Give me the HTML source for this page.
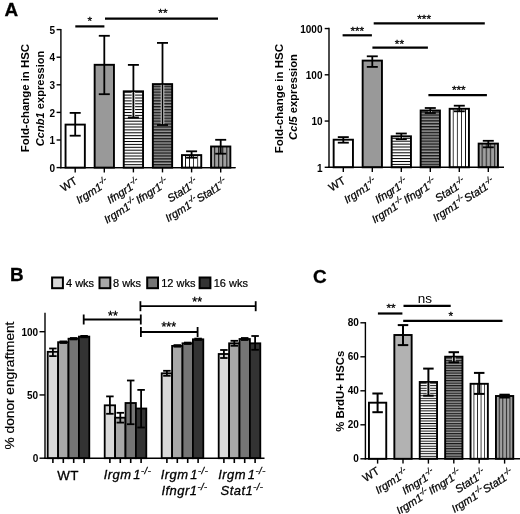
<!DOCTYPE html>
<html><head><meta charset="utf-8"><title>Figure</title>
<style>html,body{margin:0;padding:0;background:#fff}svg{display:block}text{font-family:"Liberation Sans", sans-serif;fill:#000}</style>
</head><body>
<svg width="520" height="514" viewBox="0 0 520 514">
<defs>
<pattern id="hw" x="0" y="-0.500" width="8" height="2.9" patternUnits="userSpaceOnUse"><rect width="8" height="2.9" fill="#fff"/><rect width="8" height="1.0" fill="#000"/></pattern>
<pattern id="hg" x="0" y="-0.700" width="8" height="2.9" patternUnits="userSpaceOnUse"><rect width="8" height="2.9" fill="#989898"/><rect width="8" height="1.4" fill="#1a1a1a"/></pattern>
<pattern id="vw" x="1.650" y="0" width="4.1" height="8" patternUnits="userSpaceOnUse"><rect width="4.1" height="8" fill="#fff"/><rect width="0.8" height="8" fill="#000"/></pattern>
<pattern id="vg" x="1.500" y="0" width="4.1" height="8" patternUnits="userSpaceOnUse"><rect width="4.1" height="8" fill="#a0a0a0"/><rect width="1.1" height="8" fill="#222"/></pattern>
<pattern id="hwC" x="0" y="-0.475" width="8" height="2.52" patternUnits="userSpaceOnUse"><rect width="8" height="2.52" fill="#fff"/><rect width="8" height="0.95" fill="#000"/></pattern>
<pattern id="hgC" x="0" y="-0.600" width="8" height="2.52" patternUnits="userSpaceOnUse"><rect width="8" height="2.52" fill="#989898"/><rect width="8" height="1.2" fill="#1a1a1a"/></pattern>
<pattern id="vwC" x="1.410" y="0" width="3.57" height="8" patternUnits="userSpaceOnUse"><rect width="3.57" height="8" fill="#fff"/><rect width="0.75" height="8" fill="#000"/></pattern>
<pattern id="vgC" x="1.285" y="0" width="3.57" height="8" patternUnits="userSpaceOnUse"><rect width="3.57" height="8" fill="#a0a0a0"/><rect width="1.0" height="8" fill="#222"/></pattern>
</defs>
<rect width="520" height="514" fill="#fff"/>

<text x="4.60" y="15.90" font-size="18.9" font-weight="bold" font-style="normal" text-anchor="start" stroke="#000" stroke-width="0.3">A</text>
<text x="10.00" y="280.70" font-size="18.9" font-weight="bold" font-style="normal" text-anchor="start" stroke="#000" stroke-width="0.3">B</text>
<text x="313.00" y="283.40" font-size="18.9" font-weight="bold" font-style="normal" text-anchor="start" stroke="#000" stroke-width="0.3">C</text>
<line x1="60.90" y1="28.90" x2="60.90" y2="168.30" stroke="#000" stroke-width="1.4" stroke-linecap="butt"/>
<line x1="60.20" y1="167.60" x2="235.50" y2="167.60" stroke="#000" stroke-width="1.4" stroke-linecap="butt"/>
<line x1="56.60" y1="167.60" x2="60.90" y2="167.60" stroke="#000" stroke-width="1.4" stroke-linecap="butt"/>
<text x="55.10" y="171.80" font-size="10" font-weight="bold" font-style="normal" text-anchor="end">0</text>
<line x1="56.60" y1="140.00" x2="60.90" y2="140.00" stroke="#000" stroke-width="1.4" stroke-linecap="butt"/>
<text x="55.10" y="144.20" font-size="10" font-weight="bold" font-style="normal" text-anchor="end">1</text>
<line x1="56.60" y1="112.40" x2="60.90" y2="112.40" stroke="#000" stroke-width="1.4" stroke-linecap="butt"/>
<text x="55.10" y="116.60" font-size="10" font-weight="bold" font-style="normal" text-anchor="end">2</text>
<line x1="56.60" y1="84.80" x2="60.90" y2="84.80" stroke="#000" stroke-width="1.4" stroke-linecap="butt"/>
<text x="55.10" y="89.00" font-size="10" font-weight="bold" font-style="normal" text-anchor="end">3</text>
<line x1="56.60" y1="57.20" x2="60.90" y2="57.20" stroke="#000" stroke-width="1.4" stroke-linecap="butt"/>
<text x="55.10" y="61.40" font-size="10" font-weight="bold" font-style="normal" text-anchor="end">4</text>
<line x1="56.60" y1="29.60" x2="60.90" y2="29.60" stroke="#000" stroke-width="1.4" stroke-linecap="butt"/>
<text x="55.10" y="33.80" font-size="10" font-weight="bold" font-style="normal" text-anchor="end">5</text>
<text x="29.30" y="98.10" font-size="11.4" font-weight="bold" font-style="normal" text-anchor="middle" transform="rotate(-90 29.30 98.10)">Fold-change in HSC</text>
<text x="44.00" y="98.40" font-size="11.1" font-weight="bold" font-style="normal" text-anchor="middle" transform="rotate(-90 44.00 98.40)"><tspan font-style="italic">Ccnb1</tspan> expression</text>
<g transform="translate(75.20 167.60)"><rect x="-9.65" y="-43.00" width="19.30" height="43.00" fill="#fff" stroke="#000" stroke-width="1.9"/></g>
<line x1="75.20" y1="112.90" x2="75.20" y2="135.70" stroke="#000" stroke-width="1.8" stroke-linecap="butt"/>
<line x1="69.70" y1="112.90" x2="80.70" y2="112.90" stroke="#000" stroke-width="1.8" stroke-linecap="butt"/>
<line x1="69.70" y1="135.70" x2="80.70" y2="135.70" stroke="#000" stroke-width="1.8" stroke-linecap="butt"/>
<line x1="75.20" y1="167.60" x2="75.20" y2="172.40" stroke="#000" stroke-width="1.4" stroke-linecap="butt"/>
<g transform="translate(104.30 167.60)"><rect x="-9.65" y="-102.80" width="19.30" height="102.80" fill="#999" stroke="#000" stroke-width="1.9"/></g>
<line x1="104.30" y1="35.80" x2="104.30" y2="94.20" stroke="#000" stroke-width="1.8" stroke-linecap="butt"/>
<line x1="98.80" y1="35.80" x2="109.80" y2="35.80" stroke="#000" stroke-width="1.8" stroke-linecap="butt"/>
<line x1="98.80" y1="94.20" x2="109.80" y2="94.20" stroke="#000" stroke-width="1.8" stroke-linecap="butt"/>
<line x1="104.30" y1="167.60" x2="104.30" y2="172.40" stroke="#000" stroke-width="1.4" stroke-linecap="butt"/>
<g transform="translate(133.40 167.60)"><rect x="-9.65" y="-76.30" width="19.30" height="76.30" fill="url(#hw)" stroke="#000" stroke-width="1.9"/></g>
<line x1="133.40" y1="92.00" x2="133.40" y2="117.50" stroke="#fff" stroke-width="3.4" stroke-linecap="butt"/>
<line x1="133.40" y1="64.90" x2="133.40" y2="117.50" stroke="#000" stroke-width="1.8" stroke-linecap="butt"/>
<line x1="127.90" y1="64.90" x2="138.90" y2="64.90" stroke="#000" stroke-width="1.8" stroke-linecap="butt"/>
<line x1="127.90" y1="117.50" x2="138.90" y2="117.50" stroke="#000" stroke-width="1.8" stroke-linecap="butt"/>
<line x1="133.40" y1="167.60" x2="133.40" y2="172.40" stroke="#000" stroke-width="1.4" stroke-linecap="butt"/>
<g transform="translate(162.50 167.60)"><rect x="-9.65" y="-83.50" width="19.30" height="83.50" fill="url(#hg)" stroke="#000" stroke-width="1.9"/></g>
<line x1="162.50" y1="84.80" x2="162.50" y2="125.00" stroke="#fff" stroke-width="3.4" stroke-linecap="butt"/>
<line x1="162.50" y1="42.90" x2="162.50" y2="125.00" stroke="#000" stroke-width="1.8" stroke-linecap="butt"/>
<line x1="157.00" y1="42.90" x2="168.00" y2="42.90" stroke="#000" stroke-width="1.8" stroke-linecap="butt"/>
<line x1="157.00" y1="125.00" x2="168.00" y2="125.00" stroke="#000" stroke-width="1.8" stroke-linecap="butt"/>
<line x1="162.50" y1="167.60" x2="162.50" y2="172.40" stroke="#000" stroke-width="1.4" stroke-linecap="butt"/>
<g transform="translate(191.60 167.60)"><rect x="-9.65" y="-12.50" width="19.30" height="12.50" fill="url(#vw)" stroke="#000" stroke-width="1.9"/></g>
<line x1="191.60" y1="151.30" x2="191.60" y2="157.70" stroke="#000" stroke-width="1.8" stroke-linecap="butt"/>
<line x1="186.10" y1="151.30" x2="197.10" y2="151.30" stroke="#000" stroke-width="1.8" stroke-linecap="butt"/>
<line x1="186.10" y1="157.70" x2="197.10" y2="157.70" stroke="#000" stroke-width="1.8" stroke-linecap="butt"/>
<line x1="191.60" y1="167.60" x2="191.60" y2="172.40" stroke="#000" stroke-width="1.4" stroke-linecap="butt"/>
<g transform="translate(220.70 167.60)"><rect x="-9.65" y="-21.10" width="19.30" height="21.10" fill="url(#vg)" stroke="#000" stroke-width="1.9"/></g>
<line x1="220.70" y1="139.80" x2="220.70" y2="153.70" stroke="#000" stroke-width="1.8" stroke-linecap="butt"/>
<line x1="215.20" y1="139.80" x2="226.20" y2="139.80" stroke="#000" stroke-width="1.8" stroke-linecap="butt"/>
<line x1="215.20" y1="153.70" x2="226.20" y2="153.70" stroke="#000" stroke-width="1.8" stroke-linecap="butt"/>
<line x1="220.70" y1="167.60" x2="220.70" y2="172.40" stroke="#000" stroke-width="1.4" stroke-linecap="butt"/>
<line x1="60.20" y1="167.60" x2="235.50" y2="167.60" stroke="#000" stroke-width="1.4" stroke-linecap="butt"/>
<text x="78.10" y="182.90" font-size="11.1" font-weight="normal" font-style="normal" text-anchor="end" transform="rotate(-32 78.10 182.90)" stroke="#000" stroke-width="0.25">WT</text>
<text x="109.70" y="184.80" font-size="11.1" font-weight="normal" font-style="italic" text-anchor="end" transform="rotate(-32 109.70 184.80)" stroke="#000" stroke-width="0.25">Irgm1<tspan font-size="8.4" dy="-4.8">-/-</tspan></text>
<text x="140.80" y="184.80" font-size="11.1" font-weight="normal" font-style="italic" text-anchor="end" transform="rotate(-32 140.80 184.80)" stroke="#000" stroke-width="0.25">Ifngr1<tspan font-size="8.4" dy="-4.8">-/-</tspan></text>
<text x="169.40" y="184.80" font-size="11.1" font-weight="normal" font-style="italic" text-anchor="end" transform="rotate(-32 169.40 184.80)" stroke="#000" stroke-width="0.25">Irgm1<tspan font-size="8.4" dy="-4.8">-/-</tspan><tspan dy="4.8" dx="-2.0"> Ifngr1</tspan><tspan font-size="8.4" dy="-4.8">-/-</tspan></text>
<text x="199.00" y="184.80" font-size="11.1" font-weight="normal" font-style="italic" text-anchor="end" transform="rotate(-32 199.00 184.80)" stroke="#000" stroke-width="0.25">Stat1<tspan font-size="8.4" dy="-4.8">-/-</tspan></text>
<text x="228.10" y="184.80" font-size="11.1" font-weight="normal" font-style="italic" text-anchor="end" transform="rotate(-32 228.10 184.80)" stroke="#000" stroke-width="0.25">Irgm1<tspan font-size="8.4" dy="-4.8">-/-</tspan><tspan dy="4.8" dx="-2.5"> Stat1</tspan><tspan font-size="8.4" dy="-4.8">-/-</tspan></text>
<line x1="75.30" y1="26.40" x2="104.40" y2="26.40" stroke="#000" stroke-width="2.2" stroke-linecap="butt"/>
<text x="89.70" y="25.20" font-size="11.8" font-weight="normal" font-style="normal" text-anchor="middle" stroke="#000" stroke-width="0.3">*</text>
<line x1="105.00" y1="18.70" x2="218.00" y2="18.70" stroke="#000" stroke-width="2.2" stroke-linecap="butt"/>
<text x="162.90" y="17.00" font-size="11.8" font-weight="normal" font-style="normal" text-anchor="middle" stroke="#000" stroke-width="0.3">**</text>
<line x1="329.00" y1="27.85" x2="329.00" y2="168.00" stroke="#000" stroke-width="1.4" stroke-linecap="butt"/>
<line x1="324.70" y1="167.30" x2="329.00" y2="167.30" stroke="#000" stroke-width="1.4" stroke-linecap="butt"/>
<text x="322.50" y="171.50" font-size="10" font-weight="bold" font-style="normal" text-anchor="end">1</text>
<line x1="324.70" y1="121.05" x2="329.00" y2="121.05" stroke="#000" stroke-width="1.4" stroke-linecap="butt"/>
<text x="322.50" y="125.25" font-size="10" font-weight="bold" font-style="normal" text-anchor="end">10</text>
<line x1="324.70" y1="74.80" x2="329.00" y2="74.80" stroke="#000" stroke-width="1.4" stroke-linecap="butt"/>
<text x="322.50" y="79.00" font-size="10" font-weight="bold" font-style="normal" text-anchor="end">100</text>
<line x1="324.70" y1="28.55" x2="329.00" y2="28.55" stroke="#000" stroke-width="1.4" stroke-linecap="butt"/>
<text x="322.50" y="32.75" font-size="10" font-weight="bold" font-style="normal" text-anchor="end">1000</text>
<text x="283.00" y="98.60" font-size="11.5" font-weight="bold" font-style="normal" text-anchor="middle" transform="rotate(-90 283.00 98.60)">Fold-change in HSC</text>
<text x="296.80" y="97.00" font-size="11.2" font-weight="bold" font-style="normal" text-anchor="middle" transform="rotate(-90 296.80 97.00)"><tspan font-style="italic">Ccl5</tspan> expression</text>
<g transform="translate(343.30 167.30)"><rect x="-9.65" y="-27.60" width="19.30" height="27.60" fill="#fff" stroke="#000" stroke-width="1.9"/></g>
<line x1="343.30" y1="137.10" x2="343.30" y2="142.70" stroke="#000" stroke-width="1.8" stroke-linecap="butt"/>
<line x1="337.80" y1="137.10" x2="348.80" y2="137.10" stroke="#000" stroke-width="1.8" stroke-linecap="butt"/>
<line x1="337.80" y1="142.70" x2="348.80" y2="142.70" stroke="#000" stroke-width="1.8" stroke-linecap="butt"/>
<line x1="343.30" y1="167.30" x2="343.30" y2="172.10" stroke="#000" stroke-width="1.4" stroke-linecap="butt"/>
<g transform="translate(372.30 167.30)"><rect x="-9.65" y="-106.70" width="19.30" height="106.70" fill="#999" stroke="#000" stroke-width="1.9"/></g>
<line x1="372.30" y1="56.30" x2="372.30" y2="66.90" stroke="#000" stroke-width="1.8" stroke-linecap="butt"/>
<line x1="366.80" y1="56.30" x2="377.80" y2="56.30" stroke="#000" stroke-width="1.8" stroke-linecap="butt"/>
<line x1="366.80" y1="66.90" x2="377.80" y2="66.90" stroke="#000" stroke-width="1.8" stroke-linecap="butt"/>
<line x1="372.30" y1="167.30" x2="372.30" y2="172.10" stroke="#000" stroke-width="1.4" stroke-linecap="butt"/>
<g transform="translate(401.30 167.30)"><rect x="-9.65" y="-31.00" width="19.30" height="31.00" fill="url(#hw)" stroke="#000" stroke-width="1.9"/></g>
<line x1="401.30" y1="137.00" x2="401.30" y2="139.20" stroke="#fff" stroke-width="3.4" stroke-linecap="butt"/>
<line x1="401.30" y1="133.50" x2="401.30" y2="139.20" stroke="#000" stroke-width="1.8" stroke-linecap="butt"/>
<line x1="395.80" y1="133.50" x2="406.80" y2="133.50" stroke="#000" stroke-width="1.8" stroke-linecap="butt"/>
<line x1="395.80" y1="139.20" x2="406.80" y2="139.20" stroke="#000" stroke-width="1.8" stroke-linecap="butt"/>
<line x1="401.30" y1="167.30" x2="401.30" y2="172.10" stroke="#000" stroke-width="1.4" stroke-linecap="butt"/>
<g transform="translate(430.30 167.30)"><rect x="-9.65" y="-56.80" width="19.30" height="56.80" fill="url(#hg)" stroke="#000" stroke-width="1.9"/></g>
<line x1="430.30" y1="111.20" x2="430.30" y2="113.00" stroke="#fff" stroke-width="3.4" stroke-linecap="butt"/>
<line x1="430.30" y1="108.00" x2="430.30" y2="113.00" stroke="#000" stroke-width="1.8" stroke-linecap="butt"/>
<line x1="424.80" y1="108.00" x2="435.80" y2="108.00" stroke="#000" stroke-width="1.8" stroke-linecap="butt"/>
<line x1="424.80" y1="113.00" x2="435.80" y2="113.00" stroke="#000" stroke-width="1.8" stroke-linecap="butt"/>
<line x1="430.30" y1="167.30" x2="430.30" y2="172.10" stroke="#000" stroke-width="1.4" stroke-linecap="butt"/>
<g transform="translate(459.30 167.30)"><rect x="-9.65" y="-58.50" width="19.30" height="58.50" fill="url(#vw)" stroke="#000" stroke-width="1.9"/></g>
<line x1="459.30" y1="105.70" x2="459.30" y2="111.30" stroke="#000" stroke-width="1.8" stroke-linecap="butt"/>
<line x1="453.80" y1="105.70" x2="464.80" y2="105.70" stroke="#000" stroke-width="1.8" stroke-linecap="butt"/>
<line x1="453.80" y1="111.30" x2="464.80" y2="111.30" stroke="#000" stroke-width="1.8" stroke-linecap="butt"/>
<line x1="459.30" y1="167.30" x2="459.30" y2="172.10" stroke="#000" stroke-width="1.4" stroke-linecap="butt"/>
<g transform="translate(488.30 167.30)"><rect x="-9.65" y="-23.70" width="19.30" height="23.70" fill="url(#vg)" stroke="#000" stroke-width="1.9"/></g>
<line x1="488.30" y1="140.80" x2="488.30" y2="147.30" stroke="#000" stroke-width="1.8" stroke-linecap="butt"/>
<line x1="482.80" y1="140.80" x2="493.80" y2="140.80" stroke="#000" stroke-width="1.8" stroke-linecap="butt"/>
<line x1="482.80" y1="147.30" x2="493.80" y2="147.30" stroke="#000" stroke-width="1.8" stroke-linecap="butt"/>
<line x1="488.30" y1="167.30" x2="488.30" y2="172.10" stroke="#000" stroke-width="1.4" stroke-linecap="butt"/>
<line x1="328.30" y1="167.30" x2="504.00" y2="167.30" stroke="#000" stroke-width="1.4" stroke-linecap="butt"/>
<text x="346.20" y="182.60" font-size="11.1" font-weight="normal" font-style="normal" text-anchor="end" transform="rotate(-32 346.20 182.60)" stroke="#000" stroke-width="0.25">WT</text>
<text x="377.70" y="184.50" font-size="11.1" font-weight="normal" font-style="italic" text-anchor="end" transform="rotate(-32 377.70 184.50)" stroke="#000" stroke-width="0.25">Irgm1<tspan font-size="8.4" dy="-4.8">-/-</tspan></text>
<text x="408.70" y="184.50" font-size="11.1" font-weight="normal" font-style="italic" text-anchor="end" transform="rotate(-32 408.70 184.50)" stroke="#000" stroke-width="0.25">Ifngr1<tspan font-size="8.4" dy="-4.8">-/-</tspan></text>
<text x="437.20" y="184.50" font-size="11.1" font-weight="normal" font-style="italic" text-anchor="end" transform="rotate(-32 437.20 184.50)" stroke="#000" stroke-width="0.25">Irgm1<tspan font-size="8.4" dy="-4.8">-/-</tspan><tspan dy="4.8" dx="-2.0"> Ifngr1</tspan><tspan font-size="8.4" dy="-4.8">-/-</tspan></text>
<text x="466.70" y="184.50" font-size="11.1" font-weight="normal" font-style="italic" text-anchor="end" transform="rotate(-32 466.70 184.50)" stroke="#000" stroke-width="0.25">Stat1<tspan font-size="8.4" dy="-4.8">-/-</tspan></text>
<text x="495.70" y="184.50" font-size="11.1" font-weight="normal" font-style="italic" text-anchor="end" transform="rotate(-32 495.70 184.50)" stroke="#000" stroke-width="0.25">Irgm1<tspan font-size="8.4" dy="-4.8">-/-</tspan><tspan dy="4.8" dx="-2.5"> Stat1</tspan><tspan font-size="8.4" dy="-4.8">-/-</tspan></text>
<line x1="342.60" y1="35.30" x2="371.90" y2="35.30" stroke="#000" stroke-width="2.2" stroke-linecap="butt"/>
<text x="357.30" y="34.90" font-size="11.8" font-weight="normal" font-style="normal" text-anchor="middle" stroke="#000" stroke-width="0.3">***</text>
<line x1="373.70" y1="23.30" x2="484.80" y2="23.30" stroke="#000" stroke-width="2.2" stroke-linecap="butt"/>
<text x="424.10" y="22.90" font-size="11.8" font-weight="normal" font-style="normal" text-anchor="middle" stroke="#000" stroke-width="0.3">***</text>
<line x1="372.40" y1="47.60" x2="427.90" y2="47.60" stroke="#000" stroke-width="2.2" stroke-linecap="butt"/>
<text x="399.40" y="47.70" font-size="11.8" font-weight="normal" font-style="normal" text-anchor="middle" stroke="#000" stroke-width="0.3">**</text>
<line x1="428.40" y1="95.10" x2="486.90" y2="95.10" stroke="#000" stroke-width="2.2" stroke-linecap="butt"/>
<text x="458.80" y="94.30" font-size="11.8" font-weight="normal" font-style="normal" text-anchor="middle" stroke="#000" stroke-width="0.3">***</text>
<line x1="45.00" y1="312.70" x2="45.00" y2="458.90" stroke="#000" stroke-width="1.4" stroke-linecap="butt"/>
<line x1="39.50" y1="458.20" x2="45.00" y2="458.20" stroke="#000" stroke-width="1.4" stroke-linecap="butt"/>
<text x="38.20" y="462.40" font-size="10" font-weight="bold" font-style="normal" text-anchor="end">0</text>
<line x1="39.50" y1="394.95" x2="45.00" y2="394.95" stroke="#000" stroke-width="1.4" stroke-linecap="butt"/>
<text x="38.20" y="399.15" font-size="10" font-weight="bold" font-style="normal" text-anchor="end">50</text>
<line x1="39.50" y1="331.70" x2="45.00" y2="331.70" stroke="#000" stroke-width="1.4" stroke-linecap="butt"/>
<text x="38.20" y="335.90" font-size="10" font-weight="bold" font-style="normal" text-anchor="end">100</text>
<text x="13.60" y="385.50" font-size="13.7" font-weight="normal" font-style="normal" text-anchor="middle" transform="rotate(-90 13.60 385.50)" stroke="#000" stroke-width="0.2">% donor engraftment</text>
<g transform="translate(52.90 458.20)"><rect x="-5.20" y="-106.40" width="10.40" height="106.40" fill="#d9d9d9" stroke="#000" stroke-width="1.8"/></g>
<g transform="translate(63.30 458.20)"><rect x="-5.20" y="-116.00" width="10.40" height="116.00" fill="#a8a8a8" stroke="#000" stroke-width="1.8"/></g>
<g transform="translate(73.70 458.20)"><rect x="-5.20" y="-119.50" width="10.40" height="119.50" fill="#757575" stroke="#000" stroke-width="1.8"/></g>
<g transform="translate(84.10 458.20)"><rect x="-5.20" y="-121.60" width="10.40" height="121.60" fill="#333" stroke="#000" stroke-width="1.8"/></g>
<line x1="52.90" y1="348.50" x2="52.90" y2="356.10" stroke="#000" stroke-width="1.8" stroke-linecap="butt"/>
<line x1="49.15" y1="348.50" x2="56.65" y2="348.50" stroke="#000" stroke-width="1.8" stroke-linecap="butt"/>
<line x1="49.15" y1="356.10" x2="56.65" y2="356.10" stroke="#000" stroke-width="1.8" stroke-linecap="butt"/>
<line x1="52.90" y1="458.20" x2="52.90" y2="463.00" stroke="#000" stroke-width="1.6" stroke-linecap="butt"/>
<line x1="63.30" y1="341.40" x2="63.30" y2="343.00" stroke="#000" stroke-width="1.8" stroke-linecap="butt"/>
<line x1="59.55" y1="341.40" x2="67.05" y2="341.40" stroke="#000" stroke-width="1.8" stroke-linecap="butt"/>
<line x1="59.55" y1="343.00" x2="67.05" y2="343.00" stroke="#000" stroke-width="1.8" stroke-linecap="butt"/>
<line x1="63.30" y1="458.20" x2="63.30" y2="463.00" stroke="#000" stroke-width="1.6" stroke-linecap="butt"/>
<line x1="73.70" y1="338.00" x2="73.70" y2="339.40" stroke="#000" stroke-width="1.8" stroke-linecap="butt"/>
<line x1="69.95" y1="338.00" x2="77.45" y2="338.00" stroke="#000" stroke-width="1.8" stroke-linecap="butt"/>
<line x1="69.95" y1="339.40" x2="77.45" y2="339.40" stroke="#000" stroke-width="1.8" stroke-linecap="butt"/>
<line x1="73.70" y1="458.20" x2="73.70" y2="463.00" stroke="#000" stroke-width="1.6" stroke-linecap="butt"/>
<line x1="84.10" y1="335.90" x2="84.10" y2="337.30" stroke="#000" stroke-width="1.8" stroke-linecap="butt"/>
<line x1="80.35" y1="335.90" x2="87.85" y2="335.90" stroke="#000" stroke-width="1.8" stroke-linecap="butt"/>
<line x1="80.35" y1="337.30" x2="87.85" y2="337.30" stroke="#000" stroke-width="1.8" stroke-linecap="butt"/>
<line x1="84.10" y1="458.20" x2="84.10" y2="463.00" stroke="#000" stroke-width="1.6" stroke-linecap="butt"/>
<g transform="translate(109.90 458.20)"><rect x="-5.20" y="-52.90" width="10.40" height="52.90" fill="#d9d9d9" stroke="#000" stroke-width="1.8"/></g>
<g transform="translate(120.30 458.20)"><rect x="-5.20" y="-40.50" width="10.40" height="40.50" fill="#a8a8a8" stroke="#000" stroke-width="1.8"/></g>
<g transform="translate(130.70 458.20)"><rect x="-5.20" y="-55.20" width="10.40" height="55.20" fill="#757575" stroke="#000" stroke-width="1.8"/></g>
<g transform="translate(141.10 458.20)"><rect x="-5.20" y="-49.70" width="10.40" height="49.70" fill="#333" stroke="#000" stroke-width="1.8"/></g>
<line x1="109.90" y1="396.40" x2="109.90" y2="413.80" stroke="#000" stroke-width="1.8" stroke-linecap="butt"/>
<line x1="106.15" y1="396.40" x2="113.65" y2="396.40" stroke="#000" stroke-width="1.8" stroke-linecap="butt"/>
<line x1="106.15" y1="413.80" x2="113.65" y2="413.80" stroke="#000" stroke-width="1.8" stroke-linecap="butt"/>
<line x1="109.90" y1="458.20" x2="109.90" y2="463.00" stroke="#000" stroke-width="1.6" stroke-linecap="butt"/>
<line x1="120.30" y1="412.80" x2="120.30" y2="422.60" stroke="#000" stroke-width="1.8" stroke-linecap="butt"/>
<line x1="116.55" y1="412.80" x2="124.05" y2="412.80" stroke="#000" stroke-width="1.8" stroke-linecap="butt"/>
<line x1="116.55" y1="422.60" x2="124.05" y2="422.60" stroke="#000" stroke-width="1.8" stroke-linecap="butt"/>
<line x1="120.30" y1="458.20" x2="120.30" y2="463.00" stroke="#000" stroke-width="1.6" stroke-linecap="butt"/>
<line x1="130.70" y1="380.50" x2="130.70" y2="424.20" stroke="#000" stroke-width="1.8" stroke-linecap="butt"/>
<line x1="126.95" y1="380.50" x2="134.45" y2="380.50" stroke="#000" stroke-width="1.8" stroke-linecap="butt"/>
<line x1="126.95" y1="424.20" x2="134.45" y2="424.20" stroke="#000" stroke-width="1.8" stroke-linecap="butt"/>
<line x1="130.70" y1="458.20" x2="130.70" y2="463.00" stroke="#000" stroke-width="1.6" stroke-linecap="butt"/>
<line x1="141.10" y1="389.90" x2="141.10" y2="427.50" stroke="#000" stroke-width="1.8" stroke-linecap="butt"/>
<line x1="137.35" y1="389.90" x2="144.85" y2="389.90" stroke="#000" stroke-width="1.8" stroke-linecap="butt"/>
<line x1="137.35" y1="427.50" x2="144.85" y2="427.50" stroke="#000" stroke-width="1.8" stroke-linecap="butt"/>
<line x1="141.10" y1="458.20" x2="141.10" y2="463.00" stroke="#000" stroke-width="1.6" stroke-linecap="butt"/>
<g transform="translate(166.90 458.20)"><rect x="-5.20" y="-84.90" width="10.40" height="84.90" fill="#d9d9d9" stroke="#000" stroke-width="1.8"/></g>
<g transform="translate(177.30 458.20)"><rect x="-5.20" y="-112.30" width="10.40" height="112.30" fill="#a8a8a8" stroke="#000" stroke-width="1.8"/></g>
<g transform="translate(187.70 458.20)"><rect x="-5.20" y="-114.90" width="10.40" height="114.90" fill="#757575" stroke="#000" stroke-width="1.8"/></g>
<g transform="translate(198.10 458.20)"><rect x="-5.20" y="-118.90" width="10.40" height="118.90" fill="#333" stroke="#000" stroke-width="1.8"/></g>
<line x1="166.90" y1="370.80" x2="166.90" y2="375.80" stroke="#000" stroke-width="1.8" stroke-linecap="butt"/>
<line x1="163.15" y1="370.80" x2="170.65" y2="370.80" stroke="#000" stroke-width="1.8" stroke-linecap="butt"/>
<line x1="163.15" y1="375.80" x2="170.65" y2="375.80" stroke="#000" stroke-width="1.8" stroke-linecap="butt"/>
<line x1="166.90" y1="458.20" x2="166.90" y2="463.00" stroke="#000" stroke-width="1.6" stroke-linecap="butt"/>
<line x1="177.30" y1="345.10" x2="177.30" y2="346.70" stroke="#000" stroke-width="1.8" stroke-linecap="butt"/>
<line x1="173.55" y1="345.10" x2="181.05" y2="345.10" stroke="#000" stroke-width="1.8" stroke-linecap="butt"/>
<line x1="173.55" y1="346.70" x2="181.05" y2="346.70" stroke="#000" stroke-width="1.8" stroke-linecap="butt"/>
<line x1="177.30" y1="458.20" x2="177.30" y2="463.00" stroke="#000" stroke-width="1.6" stroke-linecap="butt"/>
<line x1="187.70" y1="342.60" x2="187.70" y2="344.00" stroke="#000" stroke-width="1.8" stroke-linecap="butt"/>
<line x1="183.95" y1="342.60" x2="191.45" y2="342.60" stroke="#000" stroke-width="1.8" stroke-linecap="butt"/>
<line x1="183.95" y1="344.00" x2="191.45" y2="344.00" stroke="#000" stroke-width="1.8" stroke-linecap="butt"/>
<line x1="187.70" y1="458.20" x2="187.70" y2="463.00" stroke="#000" stroke-width="1.6" stroke-linecap="butt"/>
<line x1="198.10" y1="338.60" x2="198.10" y2="340.00" stroke="#000" stroke-width="1.8" stroke-linecap="butt"/>
<line x1="194.35" y1="338.60" x2="201.85" y2="338.60" stroke="#000" stroke-width="1.8" stroke-linecap="butt"/>
<line x1="194.35" y1="340.00" x2="201.85" y2="340.00" stroke="#000" stroke-width="1.8" stroke-linecap="butt"/>
<line x1="198.10" y1="458.20" x2="198.10" y2="463.00" stroke="#000" stroke-width="1.6" stroke-linecap="butt"/>
<g transform="translate(223.90 458.20)"><rect x="-5.20" y="-104.20" width="10.40" height="104.20" fill="#d9d9d9" stroke="#000" stroke-width="1.8"/></g>
<g transform="translate(234.30 458.20)"><rect x="-5.20" y="-114.90" width="10.40" height="114.90" fill="#a8a8a8" stroke="#000" stroke-width="1.8"/></g>
<g transform="translate(244.70 458.20)"><rect x="-5.20" y="-119.20" width="10.40" height="119.20" fill="#757575" stroke="#000" stroke-width="1.8"/></g>
<g transform="translate(255.10 458.20)"><rect x="-5.20" y="-114.90" width="10.40" height="114.90" fill="#333" stroke="#000" stroke-width="1.8"/></g>
<line x1="223.90" y1="350.00" x2="223.90" y2="358.00" stroke="#000" stroke-width="1.8" stroke-linecap="butt"/>
<line x1="220.15" y1="350.00" x2="227.65" y2="350.00" stroke="#000" stroke-width="1.8" stroke-linecap="butt"/>
<line x1="220.15" y1="358.00" x2="227.65" y2="358.00" stroke="#000" stroke-width="1.8" stroke-linecap="butt"/>
<line x1="223.90" y1="458.20" x2="223.90" y2="463.00" stroke="#000" stroke-width="1.6" stroke-linecap="butt"/>
<line x1="234.30" y1="340.80" x2="234.30" y2="345.80" stroke="#000" stroke-width="1.8" stroke-linecap="butt"/>
<line x1="230.55" y1="340.80" x2="238.05" y2="340.80" stroke="#000" stroke-width="1.8" stroke-linecap="butt"/>
<line x1="230.55" y1="345.80" x2="238.05" y2="345.80" stroke="#000" stroke-width="1.8" stroke-linecap="butt"/>
<line x1="234.30" y1="458.20" x2="234.30" y2="463.00" stroke="#000" stroke-width="1.6" stroke-linecap="butt"/>
<line x1="244.70" y1="338.00" x2="244.70" y2="340.00" stroke="#000" stroke-width="1.8" stroke-linecap="butt"/>
<line x1="240.95" y1="338.00" x2="248.45" y2="338.00" stroke="#000" stroke-width="1.8" stroke-linecap="butt"/>
<line x1="240.95" y1="340.00" x2="248.45" y2="340.00" stroke="#000" stroke-width="1.8" stroke-linecap="butt"/>
<line x1="244.70" y1="458.20" x2="244.70" y2="463.00" stroke="#000" stroke-width="1.6" stroke-linecap="butt"/>
<line x1="255.10" y1="336.00" x2="255.10" y2="349.80" stroke="#000" stroke-width="1.8" stroke-linecap="butt"/>
<line x1="251.35" y1="336.00" x2="258.85" y2="336.00" stroke="#000" stroke-width="1.8" stroke-linecap="butt"/>
<line x1="251.35" y1="349.80" x2="258.85" y2="349.80" stroke="#000" stroke-width="1.8" stroke-linecap="butt"/>
<line x1="255.10" y1="458.20" x2="255.10" y2="463.00" stroke="#000" stroke-width="1.6" stroke-linecap="butt"/>
<line x1="44.30" y1="458.20" x2="264.50" y2="458.20" stroke="#000" stroke-width="1.4" stroke-linecap="butt"/>
<rect x="52.10" y="277.5" width="10.8" height="10.7" fill="#d9d9d9" stroke="#000" stroke-width="2"/>
<text x="66.00" y="287.00" font-size="11" font-weight="normal" font-style="normal" text-anchor="start" stroke="#000" stroke-width="0.2">4 wks</text>
<rect x="99.50" y="277.5" width="10.8" height="10.7" fill="#a8a8a8" stroke="#000" stroke-width="2"/>
<text x="113.00" y="287.00" font-size="11" font-weight="normal" font-style="normal" text-anchor="start" stroke="#000" stroke-width="0.2">8 wks</text>
<rect x="147.20" y="277.5" width="10.8" height="10.7" fill="#757575" stroke="#000" stroke-width="2"/>
<text x="161.20" y="287.00" font-size="11" font-weight="normal" font-style="normal" text-anchor="start" stroke="#000" stroke-width="0.2">12 wks</text>
<rect x="199.60" y="277.5" width="10.8" height="10.7" fill="#333" stroke="#000" stroke-width="2"/>
<text x="213.70" y="287.00" font-size="11" font-weight="normal" font-style="normal" text-anchor="start" stroke="#000" stroke-width="0.2">16 wks</text>
<text x="68.00" y="480.00" font-size="13.4" font-weight="normal" font-style="normal" text-anchor="middle" letter-spacing="0.45" stroke="#000" stroke-width="0.3">WT</text>
<text x="127.50" y="478.70" font-size="13" font-weight="normal" font-style="italic" text-anchor="middle" letter-spacing="0.45" stroke="#000" stroke-width="0.3">Irgm<tspan dx="1.8">1</tspan><tspan font-size="9.4" dy="-4.7">-/-</tspan></text>
<text x="184.50" y="478.70" font-size="13" font-weight="normal" font-style="italic" text-anchor="middle" letter-spacing="0.45" stroke="#000" stroke-width="0.3">Irgm<tspan dx="1.8">1</tspan><tspan font-size="9.4" dy="-4.7">-/-</tspan></text>
<text x="184.50" y="494.70" font-size="13" font-weight="normal" font-style="italic" text-anchor="middle" letter-spacing="0.45" stroke="#000" stroke-width="0.3">Ifngr1<tspan font-size="9.4" dy="-4.7">-/-</tspan></text>
<text x="242.00" y="478.70" font-size="13" font-weight="normal" font-style="italic" text-anchor="middle" letter-spacing="0.45" stroke="#000" stroke-width="0.3">Irgm<tspan dx="1.8">1</tspan><tspan font-size="9.4" dy="-4.7">-/-</tspan></text>
<text x="242.00" y="494.70" font-size="13" font-weight="normal" font-style="italic" text-anchor="middle" letter-spacing="0.45" stroke="#000" stroke-width="0.3">Stat1<tspan font-size="9.4" dy="-4.7">-/-</tspan></text>
<line x1="83.70" y1="319.50" x2="140.80" y2="319.50" stroke="#000" stroke-width="1.8" stroke-linecap="butt"/>
<line x1="83.70" y1="314.50" x2="83.70" y2="324.50" stroke="#000" stroke-width="1.8" stroke-linecap="butt"/>
<line x1="140.80" y1="314.50" x2="140.80" y2="324.50" stroke="#000" stroke-width="1.8" stroke-linecap="butt"/>
<text x="112.90" y="319.60" font-size="12.5" font-weight="normal" font-style="normal" text-anchor="middle" stroke="#000" stroke-width="0.3">**</text>
<line x1="140.40" y1="306.20" x2="255.70" y2="306.20" stroke="#000" stroke-width="1.8" stroke-linecap="butt"/>
<line x1="140.40" y1="301.20" x2="140.40" y2="311.20" stroke="#000" stroke-width="1.8" stroke-linecap="butt"/>
<line x1="255.70" y1="301.20" x2="255.70" y2="311.20" stroke="#000" stroke-width="1.8" stroke-linecap="butt"/>
<text x="197.20" y="306.40" font-size="12.5" font-weight="normal" font-style="normal" text-anchor="middle" stroke="#000" stroke-width="0.3">**</text>
<line x1="140.90" y1="332.00" x2="197.60" y2="332.00" stroke="#000" stroke-width="1.8" stroke-linecap="butt"/>
<line x1="140.90" y1="327.00" x2="140.90" y2="337.00" stroke="#000" stroke-width="1.8" stroke-linecap="butt"/>
<line x1="197.60" y1="327.00" x2="197.60" y2="337.00" stroke="#000" stroke-width="1.8" stroke-linecap="butt"/>
<text x="168.80" y="331.00" font-size="12.5" font-weight="normal" font-style="normal" text-anchor="middle" stroke="#000" stroke-width="0.3">***</text>
<line x1="365.40" y1="322.10" x2="365.40" y2="459.50" stroke="#000" stroke-width="1.4" stroke-linecap="butt"/>
<line x1="360.40" y1="458.80" x2="365.40" y2="458.80" stroke="#000" stroke-width="1.4" stroke-linecap="butt"/>
<text x="358.90" y="462.40" font-size="10" font-weight="bold" font-style="normal" text-anchor="end">0</text>
<line x1="360.40" y1="424.80" x2="365.40" y2="424.80" stroke="#000" stroke-width="1.4" stroke-linecap="butt"/>
<text x="358.90" y="428.40" font-size="10" font-weight="bold" font-style="normal" text-anchor="end">20</text>
<line x1="360.40" y1="390.80" x2="365.40" y2="390.80" stroke="#000" stroke-width="1.4" stroke-linecap="butt"/>
<text x="358.90" y="394.40" font-size="10" font-weight="bold" font-style="normal" text-anchor="end">40</text>
<line x1="360.40" y1="356.80" x2="365.40" y2="356.80" stroke="#000" stroke-width="1.4" stroke-linecap="butt"/>
<text x="358.90" y="360.40" font-size="10" font-weight="bold" font-style="normal" text-anchor="end">60</text>
<line x1="360.40" y1="322.80" x2="365.40" y2="322.80" stroke="#000" stroke-width="1.4" stroke-linecap="butt"/>
<text x="358.90" y="326.40" font-size="10" font-weight="bold" font-style="normal" text-anchor="end">80</text>
<text x="343.60" y="391.20" font-size="11.35" font-weight="bold" font-style="normal" text-anchor="middle" transform="rotate(-90 343.60 391.20)">% BrdU+ HSCs</text>
<g transform="translate(377.60 458.80)"><rect x="-8.65" y="-56.10" width="17.30" height="56.10" fill="#fff" stroke="#000" stroke-width="1.9"/></g>
<line x1="377.60" y1="393.50" x2="377.60" y2="412.20" stroke="#000" stroke-width="2.0" stroke-linecap="butt"/>
<line x1="372.35" y1="393.50" x2="382.85" y2="393.50" stroke="#000" stroke-width="2.0" stroke-linecap="butt"/>
<line x1="372.35" y1="412.20" x2="382.85" y2="412.20" stroke="#000" stroke-width="2.0" stroke-linecap="butt"/>
<line x1="377.60" y1="458.80" x2="377.60" y2="463.60" stroke="#000" stroke-width="1.4" stroke-linecap="butt"/>
<g transform="translate(403.00 458.80)"><rect x="-8.65" y="-123.80" width="17.30" height="123.80" fill="#b2b2b2" stroke="#000" stroke-width="1.9"/></g>
<line x1="403.00" y1="325.10" x2="403.00" y2="345.10" stroke="#000" stroke-width="2.0" stroke-linecap="butt"/>
<line x1="397.75" y1="325.10" x2="408.25" y2="325.10" stroke="#000" stroke-width="2.0" stroke-linecap="butt"/>
<line x1="397.75" y1="345.10" x2="408.25" y2="345.10" stroke="#000" stroke-width="2.0" stroke-linecap="butt"/>
<line x1="403.00" y1="458.80" x2="403.00" y2="463.60" stroke="#000" stroke-width="1.4" stroke-linecap="butt"/>
<g transform="translate(428.40 458.80)"><rect x="-8.65" y="-76.80" width="17.30" height="76.80" fill="url(#hwC)" stroke="#000" stroke-width="1.9"/></g>
<line x1="428.40" y1="382.70" x2="428.40" y2="395.70" stroke="#fff" stroke-width="3.4" stroke-linecap="butt"/>
<line x1="428.40" y1="368.60" x2="428.40" y2="395.70" stroke="#000" stroke-width="2.0" stroke-linecap="butt"/>
<line x1="423.15" y1="368.60" x2="433.65" y2="368.60" stroke="#000" stroke-width="2.0" stroke-linecap="butt"/>
<line x1="423.15" y1="395.70" x2="433.65" y2="395.70" stroke="#000" stroke-width="2.0" stroke-linecap="butt"/>
<line x1="428.40" y1="458.80" x2="428.40" y2="463.60" stroke="#000" stroke-width="1.4" stroke-linecap="butt"/>
<g transform="translate(453.80 458.80)"><rect x="-8.65" y="-102.10" width="17.30" height="102.10" fill="url(#hgC)" stroke="#000" stroke-width="1.9"/></g>
<line x1="453.80" y1="357.40" x2="453.80" y2="362.30" stroke="#fff" stroke-width="3.4" stroke-linecap="butt"/>
<line x1="453.80" y1="352.20" x2="453.80" y2="362.30" stroke="#000" stroke-width="2.0" stroke-linecap="butt"/>
<line x1="448.55" y1="352.20" x2="459.05" y2="352.20" stroke="#000" stroke-width="2.0" stroke-linecap="butt"/>
<line x1="448.55" y1="362.30" x2="459.05" y2="362.30" stroke="#000" stroke-width="2.0" stroke-linecap="butt"/>
<line x1="453.80" y1="458.80" x2="453.80" y2="463.60" stroke="#000" stroke-width="1.4" stroke-linecap="butt"/>
<g transform="translate(479.20 458.80)"><rect x="-8.65" y="-75.00" width="17.30" height="75.00" fill="url(#vwC)" stroke="#000" stroke-width="1.9"/></g>
<line x1="479.20" y1="372.90" x2="479.20" y2="393.90" stroke="#000" stroke-width="2.0" stroke-linecap="butt"/>
<line x1="473.95" y1="372.90" x2="484.45" y2="372.90" stroke="#000" stroke-width="2.0" stroke-linecap="butt"/>
<line x1="473.95" y1="393.90" x2="484.45" y2="393.90" stroke="#000" stroke-width="2.0" stroke-linecap="butt"/>
<line x1="479.20" y1="458.80" x2="479.20" y2="463.60" stroke="#000" stroke-width="1.4" stroke-linecap="butt"/>
<g transform="translate(504.60 458.80)"><rect x="-8.65" y="-62.80" width="17.30" height="62.80" fill="url(#vgC)" stroke="#000" stroke-width="1.9"/></g>
<line x1="504.60" y1="394.70" x2="504.60" y2="397.50" stroke="#000" stroke-width="2.0" stroke-linecap="butt"/>
<line x1="499.35" y1="394.70" x2="509.85" y2="394.70" stroke="#000" stroke-width="2.0" stroke-linecap="butt"/>
<line x1="499.35" y1="397.50" x2="509.85" y2="397.50" stroke="#000" stroke-width="2.0" stroke-linecap="butt"/>
<line x1="504.60" y1="458.80" x2="504.60" y2="463.60" stroke="#000" stroke-width="1.4" stroke-linecap="butt"/>
<line x1="364.70" y1="458.80" x2="520.00" y2="458.80" stroke="#000" stroke-width="1.4" stroke-linecap="butt"/>
<text x="380.20" y="473.00" font-size="11.1" font-weight="normal" font-style="normal" text-anchor="end" transform="rotate(-32 380.20 473.00)" stroke="#000" stroke-width="0.25">WT</text>
<text x="408.90" y="475.00" font-size="11.1" font-weight="normal" font-style="italic" text-anchor="end" transform="rotate(-32 408.90 475.00)" stroke="#000" stroke-width="0.25">Irgm1<tspan font-size="8.4" dy="-4.8">-/-</tspan></text>
<text x="435.80" y="475.50" font-size="11.1" font-weight="normal" font-style="italic" text-anchor="end" transform="rotate(-32 435.80 475.50)" stroke="#000" stroke-width="0.25">Ifngr1<tspan font-size="8.4" dy="-4.8">-/-</tspan></text>
<text x="462.20" y="475.50" font-size="11.1" font-weight="normal" font-style="italic" text-anchor="end" transform="rotate(-32 462.20 475.50)" stroke="#000" stroke-width="0.25">Irgm1<tspan font-size="8.4" dy="-4.8">-/-</tspan><tspan dy="4.8" dx="-1.5"> Ifngr1</tspan><tspan font-size="8.4" dy="-4.8">-/-</tspan></text>
<text x="486.60" y="475.50" font-size="11.1" font-weight="normal" font-style="italic" text-anchor="end" transform="rotate(-32 486.60 475.50)" stroke="#000" stroke-width="0.25">Stat1<tspan font-size="8.4" dy="-4.8">-/-</tspan></text>
<text x="514.50" y="475.50" font-size="11.1" font-weight="normal" font-style="italic" text-anchor="end" transform="rotate(-32 514.50 475.50)" stroke="#000" stroke-width="0.25">Irgm1<tspan font-size="8.4" dy="-4.8">-/-</tspan><tspan dy="4.8" dx="-2.5"> Stat1</tspan><tspan font-size="8.4" dy="-4.8">-/-</tspan></text>
<line x1="377.90" y1="313.50" x2="402.40" y2="313.50" stroke="#000" stroke-width="2.2" stroke-linecap="butt"/>
<text x="391.00" y="312.00" font-size="11.8" font-weight="normal" font-style="normal" text-anchor="middle" stroke="#000" stroke-width="0.3">**</text>
<line x1="403.50" y1="305.90" x2="450.70" y2="305.90" stroke="#000" stroke-width="2.2" stroke-linecap="butt"/>
<text x="424.80" y="302.90" font-size="13.5" font-weight="normal" font-style="normal" text-anchor="middle">ns</text>
<line x1="403.20" y1="320.80" x2="502.50" y2="320.80" stroke="#000" stroke-width="2.2" stroke-linecap="butt"/>
<text x="450.70" y="320.00" font-size="11.8" font-weight="normal" font-style="normal" text-anchor="middle" stroke="#000" stroke-width="0.3">*</text>
</svg>
</body></html>
